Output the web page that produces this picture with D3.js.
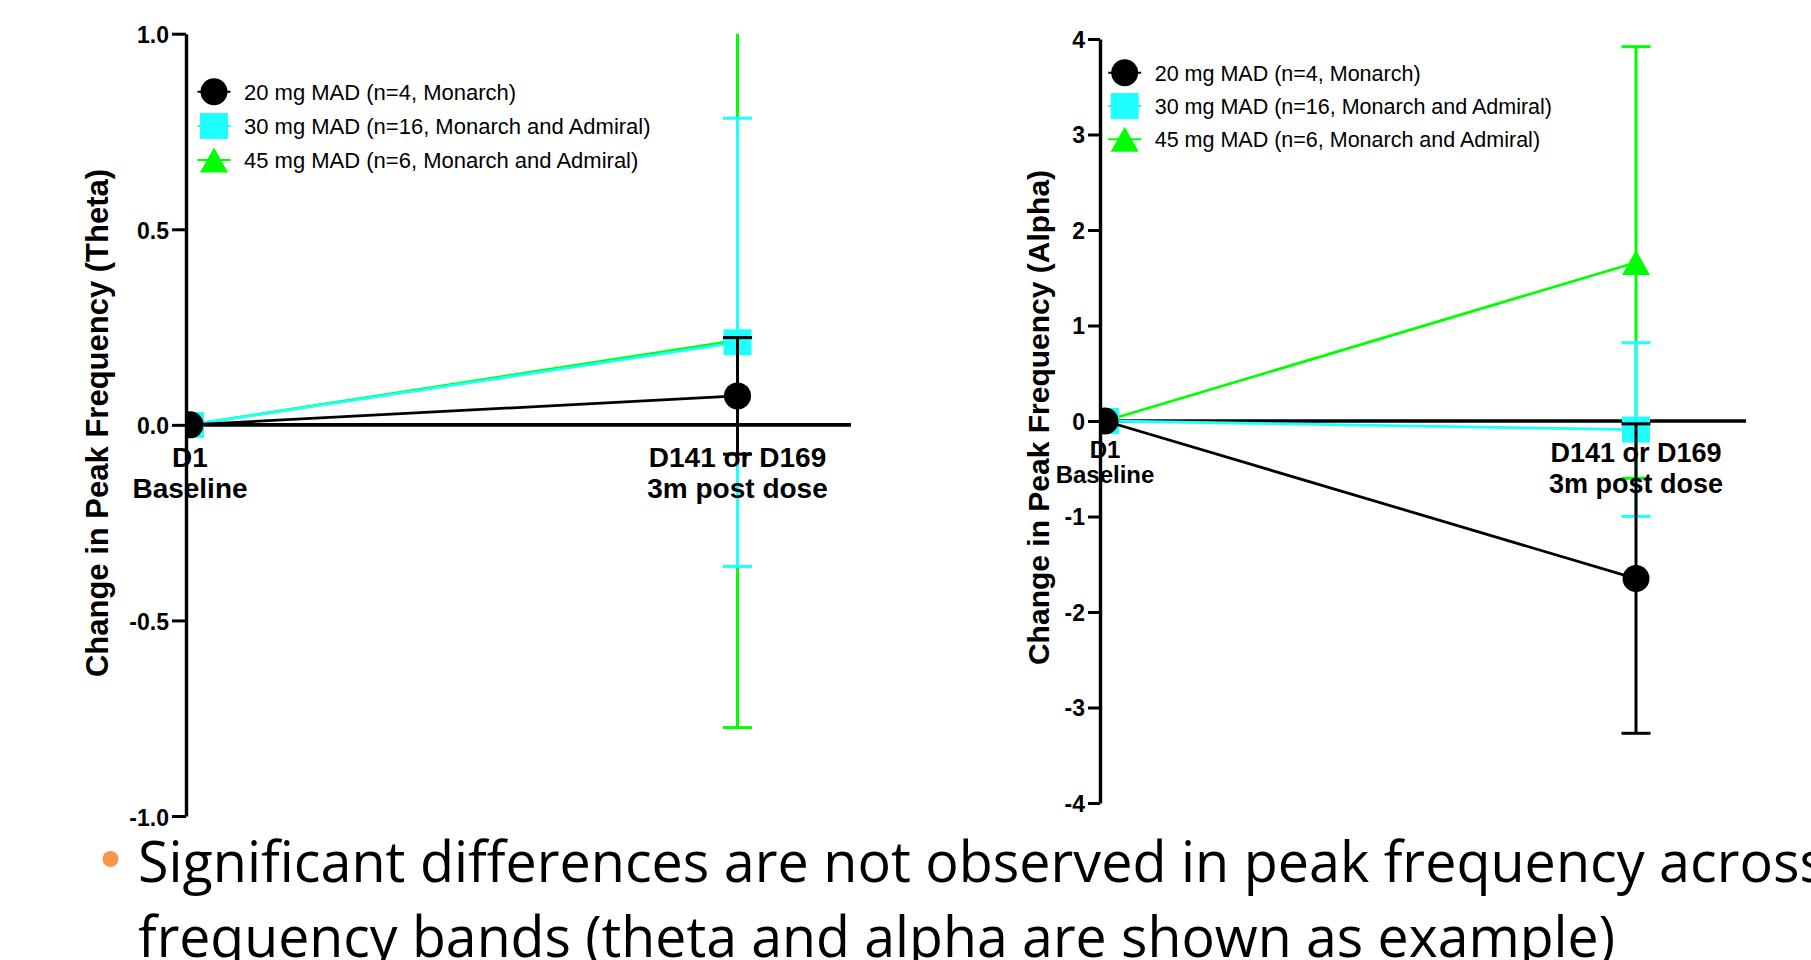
<!DOCTYPE html>
<html>
<head>
<meta charset="utf-8">
<script src="https://cdn.jsdelivr.net/npm/d3@7"></script>
<style>
  body { margin: 0; background: #fff; }
  svg { display: block; font-family: 'Liberation Sans', Arial, sans-serif; }
</style>
</head>
<body>
<svg id="container" width="1811" height="960"></svg>
<script>
// ---- data ----
const timepoints = ['D1', 'D141']
const timeLabelsTop = ['D1', 'D141 or D169']
const timeLabelsBottom = ['Baseline', '3m post dose']
const groups = [
  '20 mg MAD (n=4, Monarch)',
  '30 mg MAD (n=16, Monarch and Admiral)',
  '45 mg MAD (n=6, Monarch and Admiral)'
]
// mean change and SEM per group (20, 30, 45 mg) at D1 / D141
const thetaMeans = [[0, 0.074], [0, 0.211], [0, 0.216]]
const thetaSem = [[0, 0.149], [0, 0.573], [0, 0.99]]
const alphaMeans = [[0, -1.65], [0, -0.09], [0, 1.66]]
const alphaSem = [[0, 1.62], [0, 0.91], [0, 2.26]]
const thetaTicks = [-1, -0.5, 0, 0.5, 1]
const alphaTicks = [-4, -3, -2, -1, 0, 1, 2, 3, 4]
const bulletLines = [
  'Significant differences are not observed in peak frequency across',
  'frequency bands (theta and alpha are shown as example)'
]

// ---- styles ----
const colors = ['#000000', '#1effff', '#00ff00']
const shapes = ['circle', 'square', 'triangle']

const svg = d3.select('#container')

function marker(sel, shape, color, cx, cy) {
  if (shape === 'circle') {
    sel.append('circle').attr('cx', cx).attr('cy', cy).attr('r', 13.5).attr('fill', color)
  } else if (shape === 'square') {
    sel.append('rect').attr('x', cx - 14).attr('y', cy - 13).attr('width', 28).attr('height', 26).attr('fill', color)
  } else {
    sel.append('path')
      .attr('d', `M${cx - 14},${cy + 12.5}L${cx + 14},${cy + 12.5}L${cx},${cy - 12.5}Z`)
      .attr('fill', color)
  }
}

function drawPanel(p) {
  const x = d3.scalePoint().domain(timepoints).range(p.xRange)
  const y = d3.scaleLinear().domain(p.domain).range([p.bottom, p.top])

  const g = svg.append('g')

  g.append('clipPath').attr('id', p.id + 'clip')
    .append('rect')
    .attr('x', p.axisX).attr('y', p.top)
    .attr('width', 900).attr('height', p.bottom - p.top)

  // zero line
  g.append('line')
    .attr('x1', p.axisX).attr('x2', p.zeroEnd)
    .attr('y1', y(0)).attr('y2', y(0))
    .attr('stroke', '#000').attr('stroke-width', 3.6)

  const plot = g.append('g').attr('clip-path', `url(#${p.id}clip)`)

  // green drawn first, black last
  d3.range(groups.length).reverse().forEach((gi) => {
    const means = p.means[gi]
    const sems = p.sems[gi]
    const s = plot.append('g')
    const pts = timepoints.map((t, i) => [x(t), y(means[i])])
    s.append('path')
      .attr('d', d3.line()(pts))
      .attr('fill', 'none')
      .attr('stroke', colors[gi])
      .attr('stroke-width', 2.8)
    timepoints.forEach((t, i) => {
      if (sems[i] <= 0) return
      const xx = x(t)
      const hi = y(means[i] + sems[i])
      const lo = y(means[i] - sems[i])
      s.append('line').attr('x1', xx).attr('x2', xx).attr('y1', hi).attr('y2', lo)
        .attr('stroke', colors[gi]).attr('stroke-width', 3)
      ;[hi, lo].forEach((yy) => {
        s.append('line').attr('x1', xx - 14.5).attr('x2', xx + 14.5).attr('y1', yy).attr('y2', yy)
          .attr('stroke', colors[gi]).attr('stroke-width', 3)
      })
    })
    timepoints.forEach((t, i) => marker(s, shapes[gi], colors[gi], x(t), y(means[i])))
  })

  // y axis
  const axis = g.append('g')
    .attr('transform', `translate(${p.axisX},0)`)
    .call(d3.axisLeft(y).tickValues(p.ticks).tickFormat(p.fmt)
      .tickSize(p.tickLen).tickSizeOuter(0).tickPadding(3))
  axis.attr('font-family', null).attr('font-size', null)
  axis.select('.domain').attr('stroke-width', 3.4)
  axis.selectAll('.tick line').attr('stroke-width', 3)
  axis.selectAll('.tick text')
    .attr('font-size', 23).attr('font-weight', 'bold')
    .attr('fill', '#000')
    .attr('dy', null).attr('y', p.tickDy)

  // category labels
  timepoints.forEach((t, i) => {
    const ls = p.catStyle[i]
    g.append('text').attr('x', x(t) + ls.dx).attr('y', ls.y1)
      .attr('text-anchor', 'middle').attr('font-weight', 'bold').attr('font-size', ls.size)
      .text(timeLabelsTop[i])
    g.append('text').attr('x', x(t) + ls.dx).attr('y', ls.y2)
      .attr('text-anchor', 'middle').attr('font-weight', 'bold').attr('font-size', ls.size)
      .text(timeLabelsBottom[i])
  })

  // axis title
  g.append('text')
    .attr('transform', `translate(${p.titleX},${p.titleY}) rotate(-90)`)
    .attr('text-anchor', 'middle').attr('font-weight', 'bold').attr('font-size', p.titleSize)
    .text(p.title)

  // legend
  groups.forEach((name, gi) => {
    const ly = p.legendY[gi]
    g.append('line').attr('x1', p.legendX - 16.5).attr('x2', p.legendX + 16.5)
      .attr('y1', ly).attr('y2', ly).attr('stroke', colors[gi]).attr('stroke-width', 2)
    marker(g, shapes[gi], colors[gi], p.legendX, ly)
    g.append('text').attr('x', p.legendX + 30).attr('y', ly + 8)
      .attr('font-size', p.legendSize).text(name)
  })
}

drawPanel({
  id: 'theta',
  domain: [-1, 1], top: 33.7, bottom: 816,
  xRange: [190, 737.5], axisX: 186, zeroEnd: 851,
  means: thetaMeans, sems: thetaSem, ticks: thetaTicks,
  fmt: (d) => d.toFixed(1), tickLen: 14, tickDy: 9,
  catStyle: [{ dx: 0, y1: 467, y2: 498, size: 28 }, { dx: 0, y1: 467, y2: 498, size: 28 }],
  title: 'Change in Peak Frequency (Theta)', titleX: 108, titleY: 423, titleSize: 31,
  legendX: 214, legendY: [91.7, 126, 160], legendSize: 22
})

drawPanel({
  id: 'alpha',
  domain: [-4, 4], top: 39, bottom: 803,
  xRange: [1105, 1636], axisX: 1100, zeroEnd: 1746,
  means: alphaMeans, sems: alphaSem, ticks: alphaTicks,
  fmt: (d) => String(d), tickLen: 12, tickDy: 8,
  catStyle: [{ dx: 0, y1: 458, y2: 483, size: 24 }, { dx: 0, y1: 461.5, y2: 493, size: 27 }],
  title: 'Change in Peak Frequency (Alpha)', titleX: 1049, titleY: 417.5, titleSize: 30,
  legendX: 1124.7, legendY: [72.7, 106, 139.3], legendSize: 21.5
})

// bullet text
svg.append('circle').attr('cx', 110.5).attr('cy', 859).attr('r', 8).attr('fill', '#f79646')
const lineEnds = [1826, 1615]
bulletLines.forEach((txt, i) => {
  svg.append('text')
    .attr('x', 138).attr('y', 881.7 + i * 75)
    .style('font-family', "'Open Sans', 'Noto Sans', sans-serif")
    .attr('font-size', 56)
    .attr('textLength', lineEnds[i] - 138)
    .attr('lengthAdjust', 'spacingAndGlyphs')
    .text(txt)
})
</script>
</body>
</html>
